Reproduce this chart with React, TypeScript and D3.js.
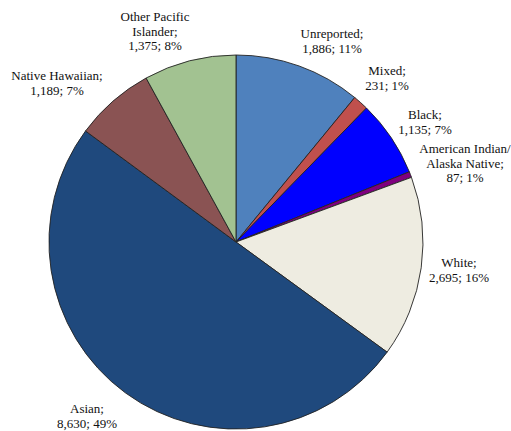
import React from 'react';
import * as d3 from 'd3';

const categories = [
  'Unreported',
  'Mixed',
  'Black',
  'American Indian/Alaska Native',
  'White',
  'Asian',
  'Native Hawaiian',
  'Other Pacific Islander',
];
const values = [1886, 231, 1135, 87, 2695, 8630, 1189, 1375];
const percents = ['11%', '1%', '7%', '1%', '16%', '49%', '7%', '8%'];
const labelLines = [
  ['Unreported;'],
  ['Mixed;'],
  ['Black;'],
  ['American Indian/', 'Alaska Native;'],
  ['White;'],
  ['Asian;'],
  ['Native Hawaiian;'],
  ['Other Pacific', 'Islander;'],
];

const colors = ['#4F81BD', '#C0504D', '#0000FF', '#7F007F', '#EEECE1', '#1F497D', '#8A5353', '#A2C291'];
// label anchor (first baseline) in page px
const labelPos: [number, number][] = [
  [332, 38], [387, 75], [425, 119], [465, 153], [459, 267], [87, 413], [57, 80], [155, 21],
];

const W = 511;
const H = 431;
const cx = 236;
const cy = 242;
const r = 187;

export default function App() {
  const pie = d3.pie<number>().sort(null).value(d => d);
  const arcs = pie(values);
  const arc = d3.arc<d3.PieArcDatum<number>>().innerRadius(0).outerRadius(r);
  const fmt = d3.format(',');

  return (
    <svg width={W} height={H} style={{ position: 'fixed', left: 0, top: 0, background: '#fff' }}>
      <g transform={`translate(${cx},${cy})`}>
        {arcs.map((a, i) => (
          <path key={categories[i]} d={arc(a) || ''} fill={colors[i]} stroke="#222" strokeWidth={0.9} strokeLinejoin="round" />
        ))}
      </g>
      {arcs.map((a, i) => {
        const [x, y] = labelPos[i];
        const lines = [...labelLines[i], `${fmt(values[i])}; ${percents[i]}`];
        return (
          <text key={i} x={x} y={y} textAnchor="middle" fontFamily="'Liberation Serif', 'Times New Roman', serif" fontSize={13} fill="#111">
            {lines.map((l, j) => (
              <tspan key={j} x={x} dy={j === 0 ? 0 : 14.5}>{l}</tspan>
            ))}
          </text>
        );
      })}
    </svg>
  );
}
